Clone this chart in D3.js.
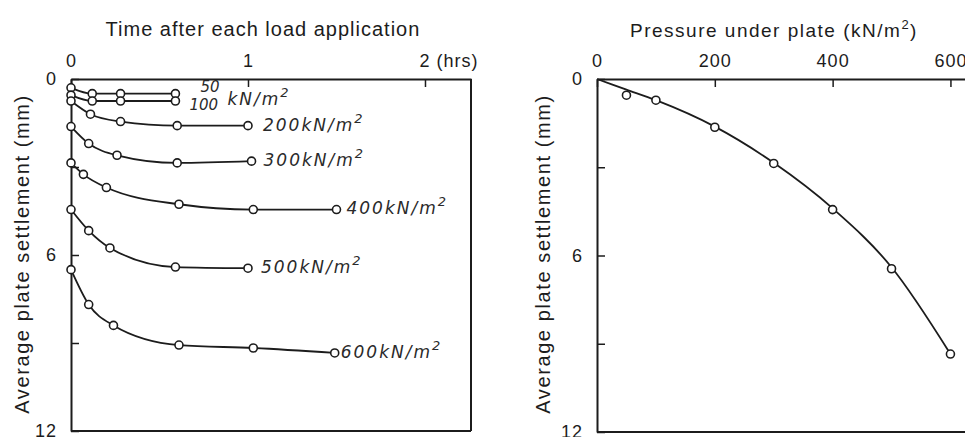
<!DOCTYPE html>
<html>
<head>
<meta charset="utf-8">
<script src="https://cdn.jsdelivr.net/npm/d3@7"></script>
<style>
  body { margin: 0; background: #fff; }
  svg { display: block; }
</style>
</head>
<body>
<div id="chart"></div>
<script>
// Plate load test: settlement vs time (left) and vs pressure (right)

// left panel - time (hrs) and settlement (mm) for each load step
var t50 = [0, 0.12, 0.28, 0.59],          s50 = [0.3, 0.5, 0.5, 0.5];
var t100 = [0, 0.12, 0.28, 0.59],         s100 = [0.55, 0.75, 0.75, 0.75];
var t200 = [0, 0.11, 0.28, 0.6, 1.0],     s200 = [0.75, 1.2, 1.45, 1.59, 1.59];
var t300 = [0, 0.1, 0.26, 0.6, 1.02],     s300 = [1.62, 2.2, 2.6, 2.86, 2.8];
var t400 = [0, 0.07, 0.2, 0.61, 1.03, 1.5], s400 = [2.86, 3.25, 3.7, 4.27, 4.45, 4.45];
var t500 = [0, 0.1, 0.22, 0.59, 1.0],     s500 = [4.45, 5.17, 5.76, 6.41, 6.45];
var t600 = [0, 0.1, 0.24, 0.61, 1.03, 1.49], s600 = [6.5, 7.69, 8.4, 9.07, 9.17, 9.34];

var loadLabels = ["50", "100", "200", "300", "400", "500", "600"];

// right panel - final settlement per pressure, plus the drawn fitted curve
var pressure = [50, 100, 200, 300, 400, 500, 600];
var finalSettle = [0.55, 0.72, 1.64, 2.87, 4.44, 6.45, 9.35];
var fitPressure = [0, 50, 100, 200, 300, 400, 500, 600];
var fitSettle = [0, 0.36, 0.72, 1.62, 2.85, 4.4, 6.4, 9.35];

// tick labels
var timeTicks = [0, 1, 2];
var pressTicks = [0, 200, 400, 600];
var settleTicks = [0, 3, 6, 9, 12];

var ink = "#1c1c1c",
    labelFont = "'Liberation Sans', Arial, sans-serif",
    noteFont = "'DejaVu Sans', sans-serif";

var svg = d3.select("#chart").append("svg")
    .attr("width", 965)
    .attr("height", 437);

// scales
var xL = d3.scaleLinear().domain([0, 2.26]).range([71, 471]),
    yL = d3.scaleLinear().domain([0, 12]).range([79, 431]),
    xR = d3.scaleLinear().domain([0, 640]).range([597, 974]),
    yR = d3.scaleLinear().domain([0, 12]).range([79, 432]);

function styleAxis(g, size) {
    g.attr("font-family", labelFont).attr("font-size", size);
    g.select(".domain").attr("stroke", ink).attr("stroke-width", 2);
    g.selectAll(".tick line").attr("stroke", ink).attr("stroke-width", 1.5);
    g.selectAll(".tick text").attr("fill", ink).style("letter-spacing", "1px");
}

function drawPanel(x, y, xTicks, xFmt, drawRight) {
    var top = svg.append("g")
        .attr("transform", "translate(0," + y(0) + ")")
        .call(d3.axisTop(x).tickValues(xTicks).tickSizeInner(-8).tickSizeOuter(0)
            .tickPadding(12).tickFormat(xFmt));
    styleAxis(top, 18);

    var left = svg.append("g")
        .attr("transform", "translate(" + x(0) + ",0)")
        .call(d3.axisLeft(y).tickValues(settleTicks).tickSizeInner(-8).tickSizeOuter(0)
            .tickPadding(14).tickFormat(function (d) { return d % 6 === 0 ? d : ""; }));
    styleAxis(left, 18);

    // bottom frame line
    svg.append("line")
        .attr("x1", x.range()[0]).attr("x2", x.range()[1])
        .attr("y1", y(12)).attr("y2", y(12))
        .attr("stroke", ink).attr("stroke-width", 2);
    if (drawRight) {
        svg.append("line")
            .attr("x1", x.range()[1]).attr("x2", x.range()[1])
            .attr("y1", y(0)).attr("y2", y(12))
            .attr("stroke", ink).attr("stroke-width", 2);
    }
    return top;
}

var topL = drawPanel(xL, yL, timeTicks, function (d) { return d === 2 ? "2 (hrs)" : d; }, true);
topL.selectAll(".tick text").filter(function (d) { return d === 2; })
    .attr("text-anchor", "start").attr("dx", -6);
drawPanel(xR, yR, pressTicks, d3.format("d"), false);

// titles
svg.append("text")
    .attr("x", 263).attr("y", 36)
    .attr("text-anchor", "middle")
    .attr("font-family", labelFont).attr("font-size", 20)
    .style("letter-spacing", "1px")
    .attr("fill", ink)
    .text("Time after each load application");

var rt = svg.append("text")
    .attr("x", 774).attr("y", 37)
    .attr("text-anchor", "middle")
    .attr("font-family", labelFont).attr("font-size", 19)
    .style("letter-spacing", "1.5px")
    .attr("fill", ink);
rt.append("tspan").text("Pressure under plate (kN/m");
rt.append("tspan").attr("dy", -8).attr("font-size", 13).text("2");
rt.append("tspan").attr("dy", 8).text(")");

[22, 543].forEach(function (cx) {
    svg.append("text")
        .attr("transform", "translate(" + cx + ",254) rotate(-90)")
        .attr("text-anchor", "middle")
        .attr("dy", "0.35em")
        .attr("font-family", labelFont).attr("font-size", 20)
        .style("letter-spacing", "1.6px")
        .attr("fill", ink)
        .text("Average plate settlement (mm)");
});

// left panel curves
var times = [t50, t100, t200, t300, t400, t500, t600],
    settles = [s50, s100, s200, s300, s400, s500, s600];

var lineL = d3.line()
    .x(function (d) { return xL(d[0]); })
    .y(function (d) { return yL(d[1]); })
    .curve(d3.curveMonotoneX);

var series = times.map(function (t, i) {
    return t.map(function (v, j) { return [v, settles[i][j]]; });
});

svg.selectAll(".curveL")
    .data(series)
    .enter().append("path")
    .attr("class", "curveL")
    .attr("d", lineL)
    .attr("fill", "none")
    .attr("stroke", ink)
    .attr("stroke-width", 1.8);

series.forEach(function (pts) {
    svg.selectAll(null)
        .data(pts)
        .enter().append("circle")
        .attr("cx", function (d) { return xL(d[0]); })
        .attr("cy", function (d) { return yL(d[1]); })
        .attr("r", 4)
        .attr("fill", "#fff")
        .attr("stroke", ink)
        .attr("stroke-width", 1.6);
});

// load annotations
function note(xp, yp, parts, size, spacing) {
    var t = svg.append("text")
        .attr("x", xp).attr("y", yp)
        .attr("dy", "0.35em")
        .attr("font-family", noteFont).attr("font-style", "italic")
        .attr("font-size", size || 17)
        .style("letter-spacing", (spacing == null ? 2 : spacing) + "px")
        .attr("fill", "#2a2a2a");
    t.append("tspan").text(parts);
    if (parts.indexOf("kN/m") >= 0) {
        t.append("tspan").attr("dy", -8).attr("font-size", 13).text("2");
    }
    return t;
}

var last = series.map(function (pts) { return pts[pts.length - 1]; });
note(xL(last[0][0]) + 25, yL(last[0][1]) - 7, loadLabels[0], 15, 0);
note(xL(last[1][0]) + 14, yL(last[1][1]) + 4, loadLabels[1], 15, 0);
note(xL(last[1][0]) + 52, yL(last[1][1]) - 2, "kN/m", 17, 2);
var noteDx = [0, 0, 15, 12, 10, 13, 6];
for (var i = 2; i < series.length; i++) {
    note(xL(last[i][0]) + noteDx[i], yL(last[i][1]) - 1, loadLabels[i] + "kN/m");
}

// right panel curve and points
var lineR = d3.line()
    .x(function (d) { return xR(d[0]); })
    .y(function (d) { return yR(d[1]); })
    .curve(d3.curveMonotoneX);

svg.append("path")
    .datum(fitPressure.map(function (p, i) { return [p, fitSettle[i]]; }))
    .attr("d", lineR)
    .attr("fill", "none")
    .attr("stroke", ink)
    .attr("stroke-width", 1.8);

svg.selectAll(".ptR")
    .data(pressure.map(function (p, i) { return [p, finalSettle[i]]; }))
    .enter().append("circle")
    .attr("class", "ptR")
    .attr("cx", function (d) { return xR(d[0]); })
    .attr("cy", function (d) { return yR(d[1]); })
    .attr("r", 4)
    .attr("fill", "#fff")
    .attr("stroke", ink)
    .attr("stroke-width", 1.6);
</script>
</body>
</html>
